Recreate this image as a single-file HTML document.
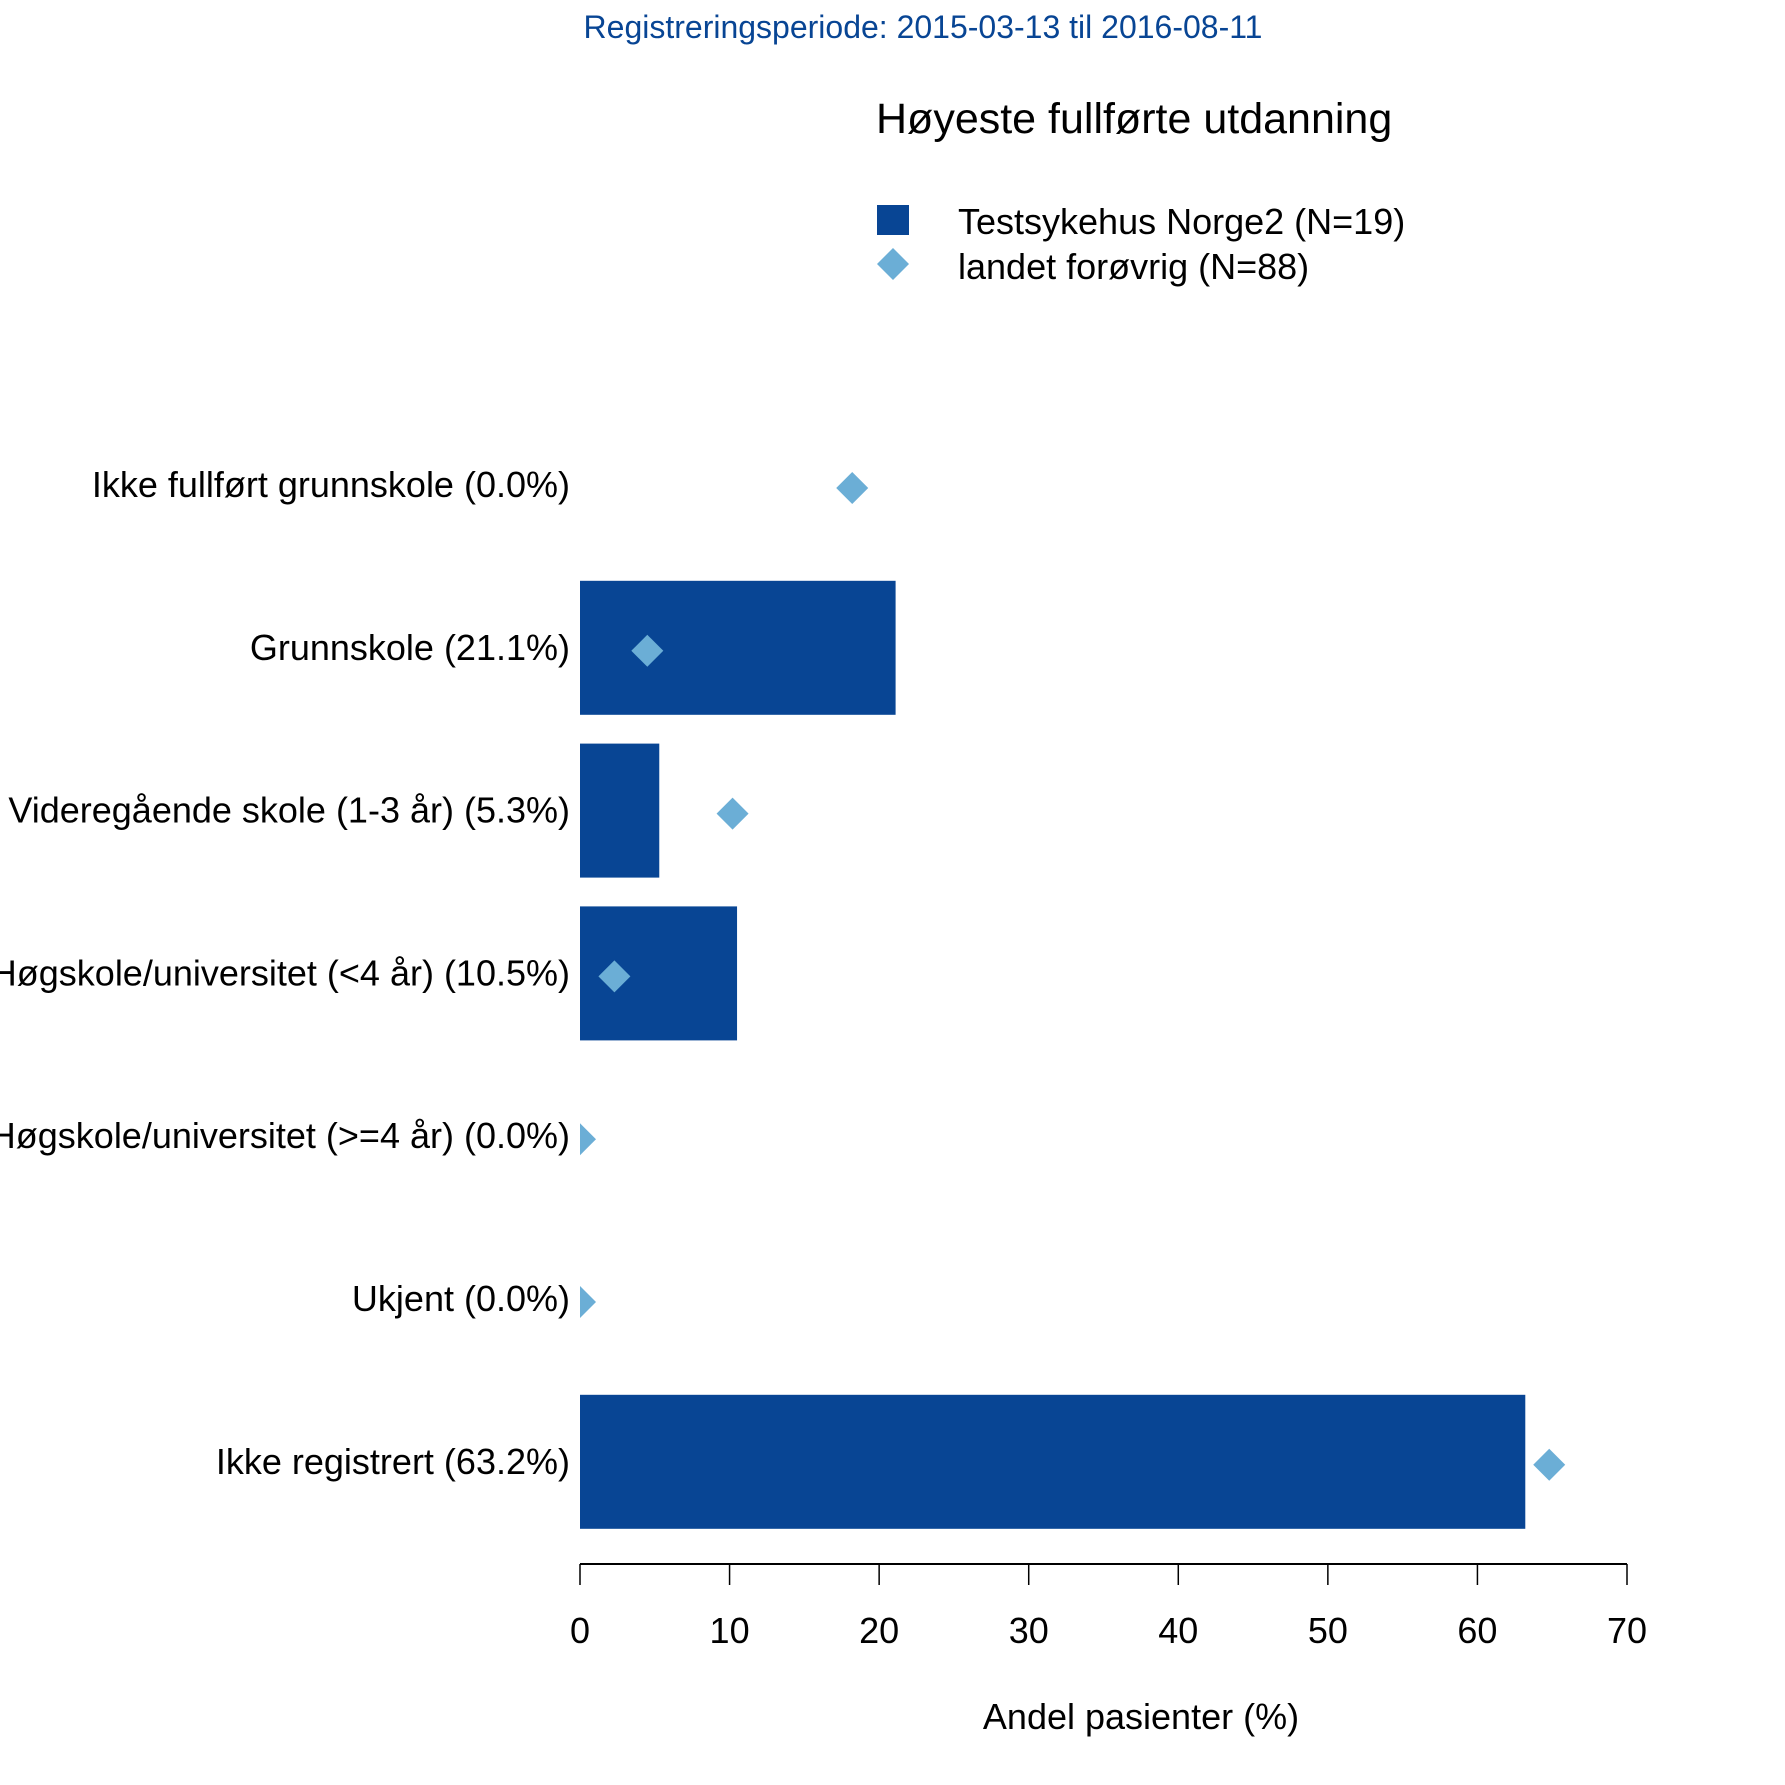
<!DOCTYPE html>
<html><head><meta charset="utf-8"><style>
html,body{margin:0;padding:0;background:#fff}
svg{display:block;font-family:"Liberation Sans",Arial,sans-serif}
</style></head><body>
<svg id="chart" width="1785" height="1785" viewBox="0 0 1785 1785">
<text x="923" y="38" text-anchor="middle" font-size="32" fill="#084594">Registreringsperiode: 2015-03-13 til 2016-08-11</text>
<text x="876" y="133" font-size="43" fill="#000">Høyeste fullførte utdanning</text>
<g>
<rect x="877" y="205" width="32" height="30" fill="#084594"/>
<text x="958" y="234" font-size="36">Testsykehus Norge2 (N=19)</text>
<polygon points="893,248 909,264 893,280 877,264" fill="#6baed6"/>
<text x="958" y="279" font-size="36">landet forøvrig (N=88)</text>
</g>
<g id="plot"></g>
<text x="1141" y="1729" text-anchor="middle" font-size="36">Andel pasienter (%)</text>
</svg>
<script>
const categories=["Ikke fullført grunnskole (0.0%)","Grunnskole (21.1%)","Videregående skole (1-3 år) (5.3%)","Høgskole/universitet (<4 år) (10.5%)","Høgskole/universitet (>=4 år) (0.0%)","Ukjent (0.0%)","Ikke registrert (63.2%)"];
const hospitalValues=[0,21.1,5.3,10.5,0,0,63.2];
const countryValues=[18.2,4.5,10.2,2.3,0,0,64.8];
const tickValues=[0,10,20,30,40,50,60,70];
const NS="http://www.w3.org/2000/svg";
const g=document.getElementById('plot');
const x=v=>580+v*(1627-580)/70;
const yc=i=>485+i*162.8;
const BH=134,D=16;
function mk(t,a){const e=document.createElementNS(NS,t);for(const k in a)e.setAttribute(k,a[k]);g.appendChild(e);return e;}
const defs=mk('defs',{});
const cp=document.createElementNS(NS,'clipPath');cp.setAttribute('id','clipR');
const cr=document.createElementNS(NS,'rect');cr.setAttribute('x',x(0));cr.setAttribute('y',0);cr.setAttribute('width',1785);cr.setAttribute('height',1785);
cp.appendChild(cr);defs.appendChild(cp);
categories.forEach((c,i)=>{
  const t=mk('text',{x:570,y:yc(i)+12,'text-anchor':'end','font-size':36});
  t.textContent=c;
  
  
  if(hospitalValues[i]>0){
    const r=mk('rect',{x:x(0),y:yc(i)-BH/2,width:x(hospitalValues[i])-x(0),height:BH,fill:'#084594'});
    
    
  }
});
countryValues.forEach((v,i)=>{
  const cx=x(v),cy=yc(i)+3;
  const p=mk('polygon',{points:`${cx},${cy-D} ${cx+D},${cy} ${cx},${cy+D} ${cx-D},${cy}`,fill:'#6baed6','clip-path':'url(#clipR)'});
  
  
});
const ax=mk('line',{x1:x(0),x2:x(70),y1:1564,y2:1564,stroke:'#000','stroke-width':2});


tickValues.forEach(v=>{
  const l=mk('line',{x1:x(v),x2:x(v),y1:1564,y2:1585,stroke:'#000','stroke-width':1.5});
  
  
  const t=mk('text',{x:x(v),y:1643,'text-anchor':'middle','font-size':36});
  t.textContent=v;
  
  
});
</script>
</body></html>
